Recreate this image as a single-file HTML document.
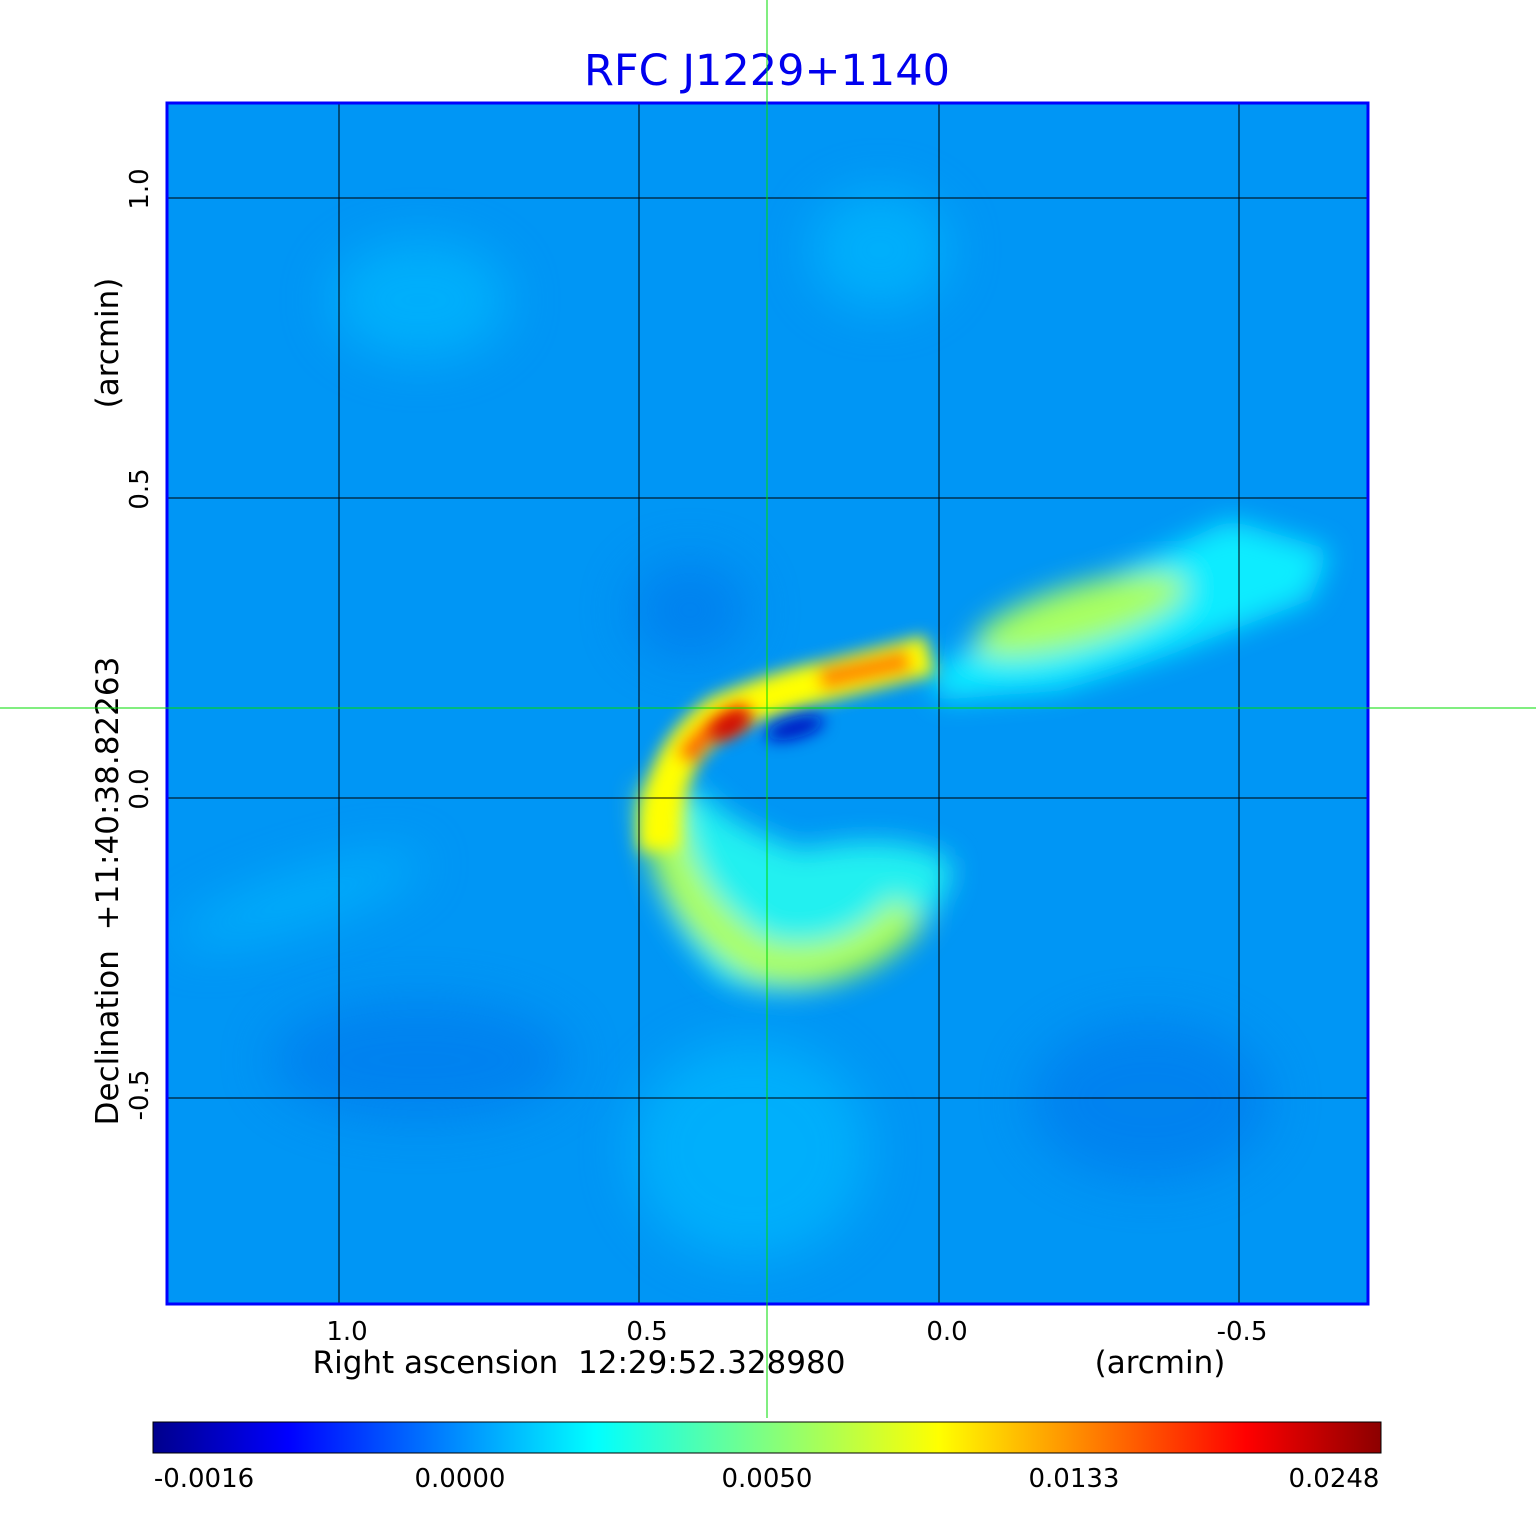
<!DOCTYPE html>
<html><head><meta charset="utf-8"><style>
body{margin:0;background:#fff;width:1536px;height:1511px;overflow:hidden;font-family:"DejaVu Sans","Liberation Sans",sans-serif}
</style></head><body>
<svg width="1536" height="1511" xmlns="http://www.w3.org/2000/svg" font-family="DejaVu Sans, Liberation Sans, sans-serif">
<defs>
<filter id="b8" x="-50%" y="-50%" width="200%" height="200%"><feGaussianBlur stdDeviation="8"/></filter>
<filter id="b14" x="-50%" y="-50%" width="200%" height="200%"><feGaussianBlur stdDeviation="14"/></filter>
<filter id="b25" x="-50%" y="-50%" width="200%" height="200%"><feGaussianBlur stdDeviation="25"/></filter>
<linearGradient id="jet" x1="0" x2="1">
<stop offset="0" stop-color="#00008c"/><stop offset="0.11" stop-color="#0000ff"/>
<stop offset="0.36" stop-color="#00ffff"/><stop offset="0.5" stop-color="#80ff80"/>
<stop offset="0.64" stop-color="#ffff00"/><stop offset="0.89" stop-color="#ff0000"/>
<stop offset="1" stop-color="#8c0000"/></linearGradient>
<clipPath id="cp"><rect x="167" y="103" width="1201" height="1201"/></clipPath>
</defs>
<text x="767" y="85" font-size="43" fill="#0000ee" text-anchor="middle">RFC J1229+1140</text>
<g clip-path="url(#cp)">
<rect x="167" y="103" width="1201" height="1201" fill="#0096f5"/>
<g filter="url(#b25)" fill="#00c0ff" opacity="0.6">
<ellipse cx="750" cy="1150" rx="120" ry="110"/>
<ellipse cx="420" cy="300" rx="90" ry="60"/>
<ellipse cx="880" cy="250" rx="70" ry="60"/>
<ellipse cx="300" cy="900" rx="130" ry="25" transform="rotate(-18 300 900)"/>
</g>
<g filter="url(#b25)" fill="#0070ea" opacity="0.5">
<ellipse cx="420" cy="1060" rx="150" ry="60"/>
<ellipse cx="690" cy="610" rx="60" ry="50"/>
<ellipse cx="1150" cy="1100" rx="120" ry="80"/>
</g>
<g filter="url(#b14)">
<path d="M 930 670 L 1080 590 L 1230 520 L 1330 550 L 1310 600 L 1180 650 L 1060 690 L 940 700 Z" fill="#10ecff"/>
<ellipse cx="1080" cy="615" rx="110" ry="30" fill="#a8ff60" transform="rotate(-16 1080 615)"/>
</g>
<g filter="url(#b14)">
<path d="M 650 800 Q 640 900 720 980 Q 800 1010 880 960 Q 960 900 950 860 Q 900 830 800 850 Q 720 820 700 790 Z" fill="#20f0f0"/>
<path d="M 660 790 Q 660 900 760 960 Q 850 980 910 910" stroke="#b0ff50" stroke-width="40" fill="none"/>
</g>
<g filter="url(#b8)">
<path d="M 660 850 Q 655 760 720 715 Q 780 690 830 680 L 930 655" stroke="#ffff00" stroke-width="40" fill="none"/>
<path d="M 685 760 Q 705 725 750 710" stroke="#ff6000" stroke-width="22" fill="none"/>
<path d="M 820 680 L 910 660" stroke="#ff8000" stroke-width="22" fill="none"/>
</g>
<g filter="url(#b8)">
<ellipse cx="730" cy="725" rx="22" ry="11" fill="#d00000" transform="rotate(-30 730 725)"/>
<ellipse cx="795" cy="728" rx="30" ry="10" fill="#0010c0" transform="rotate(-15 795 728)"/>
</g>
<g stroke="#000" stroke-width="1">
<line x1="339" y1="103" x2="339" y2="1304"/><line x1="639" y1="103" x2="639" y2="1304"/>
<line x1="939" y1="103" x2="939" y2="1304"/><line x1="1239" y1="103" x2="1239" y2="1304"/>
<line x1="167" y1="198" x2="1368" y2="198"/><line x1="167" y1="498" x2="1368" y2="498"/>
<line x1="167" y1="798" x2="1368" y2="798"/><line x1="167" y1="1098" x2="1368" y2="1098"/>
</g>
</g>
<rect x="167" y="103" width="1201" height="1201" fill="none" stroke="#0000ff" stroke-width="3"/>
<g font-size="26" fill="#000" text-anchor="middle">
<text x="347" y="1340">1.0</text><text x="647" y="1340">0.5</text>
<text x="947" y="1340">0.0</text><text x="1242" y="1340">-0.5</text>
<text x="579" y="1373" font-size="31">Right ascension&#160;&#160;12:29:52.328980</text>
<text x="1160" y="1373" font-size="31">(arcmin)</text>
</g>
<g font-size="26" fill="#000" text-anchor="middle">
<text transform="translate(148 189) rotate(-90)">1.0</text>
<text transform="translate(148 489) rotate(-90)">0.5</text>
<text transform="translate(148 789) rotate(-90)">0.0</text>
<text transform="translate(148 1095) rotate(-90)">-0.5</text>
<text transform="translate(118 891) rotate(-90)" font-size="31">Declination&#160;&#160;+11:40:38.82263</text>
<text transform="translate(118 343) rotate(-90)" font-size="31">(arcmin)</text>
</g>
<line x1="767" y1="0" x2="767" y2="1418" stroke="#00dd00" stroke-width="1"/>
<line x1="0" y1="708" x2="1536" y2="708" stroke="#00dd00" stroke-width="1"/>
<rect x="153" y="1422" width="1228" height="31" fill="url(#jet)" stroke="#000" stroke-width="1"/>
<g font-size="26" fill="#000" text-anchor="middle">
<text x="204" y="1487">-0.0016</text><text x="460" y="1487">0.0000</text>
<text x="767" y="1487">0.0050</text><text x="1074" y="1487">0.0133</text>
<text x="1334" y="1487">0.0248</text>
</g>
</svg>
</body></html>
